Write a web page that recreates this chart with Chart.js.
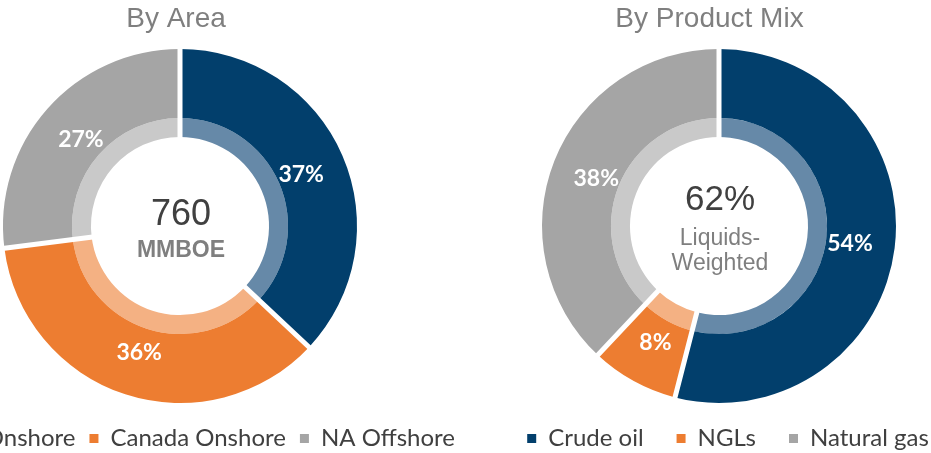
<html>
<head>
<script src="https://cdn.jsdelivr.net/npm/chart.js@4.4.0/dist/chart.umd.min.js"></script>
<style>
  body { margin: 0; width: 931px; height: 453px; overflow: hidden; background: #fff; position: relative; }
  canvas { position: absolute; top: 0; }
  #areaChart { left: -110px; }
  #mixChart { left: 479px; }
</style>
</head>
<body>
  <canvas id="areaChart" width="580" height="451"></canvas>
  <canvas id="mixChart" width="480" height="470"></canvas>

<script>
  // data
  var areaLabels = ['US Onshore', 'Canada Onshore', 'NA Offshore'];
  var areaShares = [37, 36, 27];
  var mixLabels = ['Crude oil', 'NGLs', 'Natural gas'];
  var mixShares = [54, 8, 38];

  var darkColors = ['#023F6C', '#ED7D31', '#A5A5A5'];
  var lightColors = ['#6689A8', '#F4B183', '#C9C9C9'];

  var areaCenterText = ['760', 'MMBOE'];
  var mixCenterText = ['62%', 'Liquids-', 'Weighted'];

  // white radial gaps + % labels on the outer ring + the text in the hole
  var ringPlugin = {
    id: 'ring',
    afterLayout: function(chart, args, opts) {
      // the legend and title are not centred under the ring in the picture
      var lg = chart.legend, tb = chart.titleBlock;
      lg.left += opts.legendX; lg.right += opts.legendX;
      lg.top += opts.legendY; lg.bottom += opts.legendY;
      tb.left += opts.titleX; tb.right += opts.titleX;
    },
    afterDatasetsDraw: function(chart, args, opts) {
      var ctx = chart.ctx;
      var outer = chart.getDatasetMeta(0).data;
      var hole = chart.getDatasetMeta(1).data[0].innerRadius;

      ctx.save();
      ctx.strokeStyle = '#fff';
      ctx.lineWidth = 5;
      ctx.beginPath();
      outer.forEach(function(arc) {
        var a = arc.startAngle;
        ctx.moveTo(arc.x + Math.cos(a) * (hole - 1), arc.y + Math.sin(a) * (hole - 1));
        ctx.lineTo(arc.x + Math.cos(a) * (arc.outerRadius + 2), arc.y + Math.sin(a) * (arc.outerRadius + 2));
      });
      ctx.stroke();

      ctx.fillStyle = '#fff';
      ctx.font = 'bold 23px Lato';
      ctx.textAlign = 'center';
      ctx.textBaseline = 'middle';
      var vals = chart.data.datasets[0].data;
      outer.forEach(function(arc, i) {
        var mid = (arc.startAngle + arc.endAngle) / 2;
        var r = arc.outerRadius * 0.746;
        ctx.fillText(vals[i] + '%', arc.x + Math.cos(mid) * r, arc.y + Math.sin(mid) * r + 1);
      });

      var cx = outer[0].x, cy = outer[0].y;
      ctx.textBaseline = 'alphabetic';
      opts.center.forEach(function(line) {
        ctx.font = line.font;
        ctx.fillStyle = line.color;
        ctx.fillText(line.text, cx + 1, cy + line.dy);
      });
      ctx.restore();
    }
  };

  function makeDonut(canvasId, title, labels, shares, legendPad, nudge, center) {
    return new Chart(document.getElementById(canvasId), {
      type: 'doughnut',
      data: {
        labels: labels,
        datasets: [
          { data: shares, backgroundColor: darkColors, weight: 69 },
          { data: shares, backgroundColor: lightColors, weight: 19 }
        ]
      },
      options: {
        responsive: false,
        animation: false,
        cutout: '50.3%',
        borderWidth: 0,
        hoverBorderWidth: 0,
        hoverOffset: 0,
        layout: { padding: 0 },
        plugins: {
          title: {
            display: true,
            text: title,
            color: '#7F7F7F',
            font: { family: 'Liberation Sans', size: 28, weight: 'normal' },
            padding: { top: 2, bottom: 13.4 }
          },
          legend: {
            position: 'bottom',
            labels: {
              boxWidth: 9,
              boxHeight: 9,
              padding: legendPad,
              color: '#404040',
              font: { family: 'Lato', size: 24 }
            }
          },
          tooltip: { enabled: false },
          ring: {
            legendX: nudge[0], legendY: nudge[1], titleX: nudge[2],
            center: center
          }
        }
      },
      plugins: [ringPlugin]
    });
  }

  var areaChart = makeDonut('areaChart', 'By Area', areaLabels, areaShares, 14, [11, 9.5, -4], [
    { text: areaCenterText[0], font: '36px Liberation Sans', color: '#404040', dy: -1 },
    { text: areaCenterText[1], font: 'bold 23px Liberation Sans', color: '#7F7F7F', dy: 31 }
  ]);

  var mixChart = makeDonut('mixChart', 'By Product Mix', mixLabels, mixShares, 33, [9, -9.5, -9.5], [
    { text: mixCenterText[0], font: '35px Liberation Sans', color: '#404040', dy: -16 },
    { text: mixCenterText[1], font: '23px Liberation Sans', color: '#7F7F7F', dy: 19 },
    { text: mixCenterText[2], font: '23px Liberation Sans', color: '#7F7F7F', dy: 44 }
  ]);
</script>
</body>
</html>
